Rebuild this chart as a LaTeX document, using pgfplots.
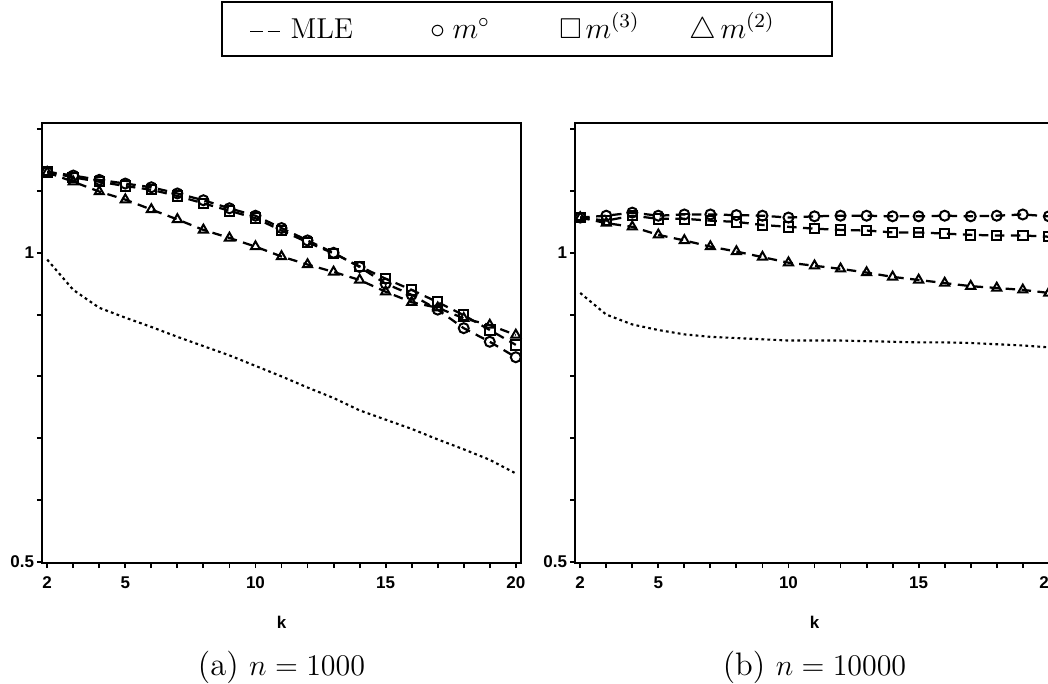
\documentclass[border=0pt]{standalone}
\usepackage{amssymb}
\usepackage{fontspec}
\usepackage{pgfplots}
\pgfplotsset{compat=1.18}
\usepackage{pgfplotstable}
\newfontfamily\ticksf{Liberation Sans}

\pgfplotstableread{
k circ sq tri mle
2 1.131 1.131 1.130 0.989
3 1.125 1.122 1.115 0.940
4 1.118 1.115 1.099 0.911
5 1.112 1.108 1.086 0.895
6 1.106 1.102 1.070 0.880
7 1.096 1.092 1.054 0.864
8 1.085 1.080 1.037 0.849
9 1.072 1.068 1.024 0.834
10 1.060 1.056 1.010 0.817
11 1.040 1.036 0.994 0.800
12 1.020 1.017 0.981 0.782
13 1.000 0.999 0.969 0.765
14 0.977 0.978 0.956 0.745
15 0.950 0.958 0.937 0.730
16 0.932 0.940 0.920 0.715
17 0.908 0.920 0.911 0.698
18 0.878 0.899 0.894 0.682
19 0.856 0.875 0.883 0.665
20 0.831 0.851 0.867 0.643
}\dataA

\pgfplotstableread{
k circ sq tri mle
2 1.057 1.057 1.057 0.935
3 1.060 1.052 1.048 0.900
4 1.065 1.060 1.042 0.884
5 1.060 1.055 1.029 0.875
6 1.062 1.055 1.020 0.868
7 1.062 1.052 1.010 0.864
8 1.061 1.050 1.002 0.862
9 1.060 1.045 0.993 0.860
10 1.057 1.042 0.984 0.858
11 1.059 1.039 0.979 0.858
12 1.060 1.037 0.974 0.858
13 1.060 1.036 0.968 0.857
14 1.059 1.033 0.961 0.856
15 1.059 1.033 0.956 0.855
16 1.060 1.031 0.951 0.855
17 1.059 1.029 0.946 0.854
18 1.060 1.028 0.943 0.852
19 1.062 1.028 0.940 0.850
20 1.059 1.026 0.935 0.847
}\dataB

\pgfplotsset{
  panel/.style={
    scale only axis, width=191.6pt, height=176pt,
    xmin=1.8, xmax=20.2, ymin=0.498, ymax=1.21,
    xtick={2,5,10,15,20},
    minor xtick={3,4,6,7,8,9,11,12,13,14,16,17,18,19},
    ytick={0.5,1},
    minor ytick={0.6,0.7,0.8,0.9,1.1,1.2},
    tick align=outside, xtick pos=left, ytick pos=left,
    major tick length=2pt, minor tick length=2pt,
    every tick/.style={black, line width=0.75pt},
    axis line style={line width=0.85pt},
    /pgf/number format/assume math mode=true,
    ticklabel style={font=\ticksf\bfseries\fontsize{6.8}{8}\selectfont},
    yticklabel style={inner sep=1pt},
    xlabel={k},
    xlabel style={font=\ticksf\bfseries\fontsize{6.8}{8}\selectfont,
      at={(axis description cs:0.5,-0.134)}, anchor=center},
  },
  mle/.style={black, line width=0.85pt, dash pattern=on 1.1pt off 1.3pt},
  ser/.style={black, line width=0.9pt, dash pattern=on 3.8pt off 2.6pt,
    mark options={solid, line width=0.8pt}},
}

\begin{document}
\begin{tikzpicture}
\useasboundingbox (0,0) rectangle (419.2pt,-273.2pt);

% legend
\draw[line width=0.8pt] (88.8pt,-0.8pt) rectangle (332.8pt,-22.4pt);
\draw[line width=0.6pt] (100pt,-12.6pt) -- (105pt,-12.6pt) (107pt,-12.6pt) -- (112pt,-12.6pt);
\begin{scope}[every node/.style={anchor=base west, inner sep=0pt, font=\fontsize{11.5}{13}\selectfont}]
\node at (116pt,-15.3pt) {MLE};
\node at (172pt,-15.3pt) {$\circ$};
\node at (180.8pt,-15.3pt) {$m^{\circ}$};
\node at (223.5pt,-15.3pt) {$\square$};
\node at (234pt,-15.3pt) {$m^{(3)}$};
\node at (275.5pt,-15.3pt) {$\triangle$};
\node at (288pt,-15.3pt) {$m^{(2)}$};
\end{scope}

\begin{axis}[panel, name=A, at={(16.8pt,-49.2pt)}, anchor=north west]
\addplot[mle] table[x=k,y=mle]{\dataA};
\addplot[ser, mark=o, mark size=2pt] table[x=k,y=circ]{\dataA};
\addplot[ser, mark=square, mark size=1.9pt] table[x=k,y=sq]{\dataA};
\addplot[ser, mark=triangle, mark size=2.1pt] table[x=k,y=tri]{\dataA};
\end{axis}

\begin{axis}[panel, name=B, at={(230pt,-49.2pt)}, anchor=north west]
\addplot[mle] table[x=k,y=mle]{\dataB};
\addplot[ser, mark=o, mark size=2pt] table[x=k,y=circ]{\dataB};
\addplot[ser, mark=square, mark size=1.9pt] table[x=k,y=sq]{\dataB};
\addplot[ser, mark=triangle, mark size=2.1pt] table[x=k,y=tri]{\dataB};
\end{axis}

\node[font=\fontsize{13}{15}\selectfont] at ([yshift=-41.6pt]A.south) {(a) $n = 1000$};
\node[font=\fontsize{13}{15}\selectfont] at ([yshift=-41.6pt]B.south) {(b) $n = 10000$};
\end{tikzpicture}
\end{document}
